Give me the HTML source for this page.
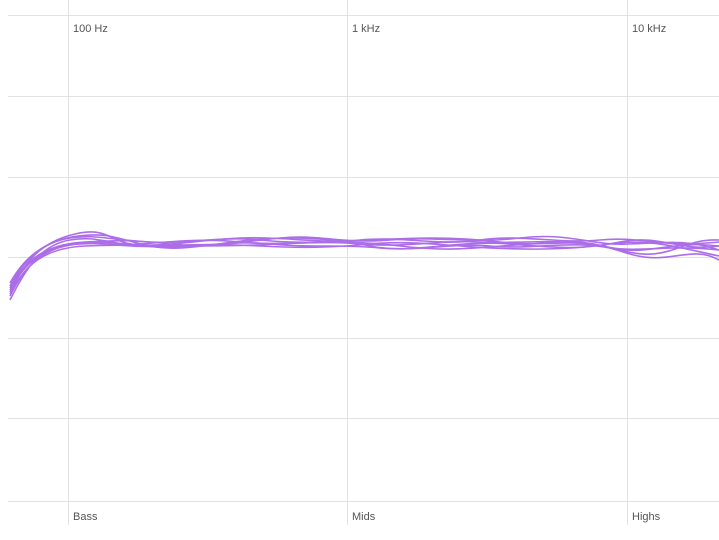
<!DOCTYPE html>
<html><head><style>
html,body{margin:0;padding:0;background:#fff;}
svg{display:block}
text{font-family:"Liberation Sans",sans-serif;font-size:11px;fill:#555}
</style></head><body>
<svg width="719" height="540" viewBox="0 0 719 540">
<g stroke="#e2e2e2" stroke-width="1">
<line x1="8" y1="15.5" x2="719" y2="15.5"/>
<line x1="8" y1="96.5" x2="719" y2="96.5"/>
<line x1="8" y1="177.5" x2="719" y2="177.5"/>
<line x1="8" y1="257.5" x2="719" y2="257.5"/>
<line x1="8" y1="338.5" x2="719" y2="338.5"/>
<line x1="8" y1="418.5" x2="719" y2="418.5"/>
<line x1="8" y1="501.5" x2="719" y2="501.5"/>
<line x1="68.5" y1="0" x2="68.5" y2="525"/>
<line x1="347.5" y1="0" x2="347.5" y2="525"/>
<line x1="627.5" y1="0" x2="627.5" y2="525"/>
</g>
<text x="73" y="32">100 Hz</text>
<text x="352" y="32">1 kHz</text>
<text x="632" y="32">10 kHz</text>
<text x="73" y="520">Bass</text>
<text x="352" y="520">Mids</text>
<text x="632" y="520">Highs</text>
<g fill="none" stroke="#a35ee6" stroke-width="1.6" opacity="0.9">
<path d="M10 300 C25 270 40 245 70 240 S110 246 140 244 S200 238 240 242 S320 240 360 244 S440 240 480 242 S560 238 600 246 S660 244 719 250"/>
<path d="M10 292 C25 262 40 242 75 234 S110 244 140 245 S200 240 240 238 S320 244 360 240 S440 246 480 240 S560 244 600 240 S660 248 719 242"/>
<path d="M10 286 C25 258 45 240 78 236 S120 240 150 246 S210 244 250 240 S330 238 370 246 S450 242 490 246 S570 240 610 248 S670 240 719 246"/>
<path d="M10 296 C25 265 45 246 80 244 S120 248 160 246 S220 244 260 246 S330 248 370 244 S450 246 490 248 S570 250 610 244 S680 248 719 256"/>
<path d="M10 283 C25 256 45 242 70 238 S110 240 150 242 S220 236 260 240 S330 242 370 240 S450 236 500 242 S570 236 620 250 S680 238 719 240"/>
<path d="M10 290 C25 262 45 246 80 243 S120 246 160 247 S230 240 270 244 S340 244 380 248 S460 240 510 244 S580 250 620 242 S680 252 719 246"/>
<path d="M10 288 C25 260 45 244 85 242 S130 240 170 244 S240 242 280 238 S340 244 390 240 S470 244 520 238 S590 246 630 244 S690 240 719 250"/>
<path d="M10 294 C25 264 45 248 85 246 S130 246 170 246 S240 246 280 244 S350 240 400 246 S470 248 530 244 S590 242 630 254 S690 244 719 260"/>
</g>
</svg>
</body></html>
